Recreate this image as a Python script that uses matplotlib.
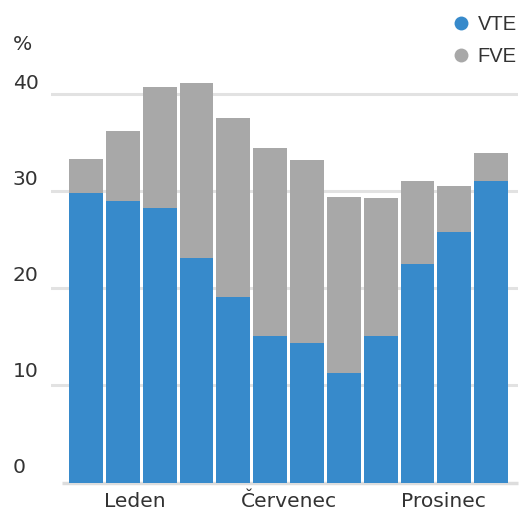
import matplotlib
matplotlib.use("Agg")
import matplotlib.pyplot as plt
from matplotlib.lines import Line2D
import numpy as np

months = ["Leden", "Únor", "Březen", "Duben", "Květen", "Červen",
          "Červenec", "Srpen", "Září", "Říjen", "Listopad", "Prosinec"]
vte = [29.8, 29.0, 28.2, 23.1, 19.1, 15.1, 14.4, 11.3, 15.1, 22.5, 25.8, 31.0]
fve = [3.5, 7.2, 12.5, 18.0, 18.4, 19.3, 18.8, 18.1, 14.2, 8.5, 4.7, 2.9]
series_names = ["VTE", "FVE"]
tick_labels = ["Leden", "Červenec", "Prosinec"]
y_ticks = [0, 10, 20, 30, 40]

C_VTE = "#378ACB"
C_FVE = "#A8A8A8"
TXT = "#333333"
FONT = "DejaVu Sans"
FS = 14.6

W, H = 521, 509
fig = plt.figure(figsize=(W / 100, H / 100), dpi=100)

left_px, right_px = 51, 518
zero_px = 482.5
px_per_unit = 9.72
ymax = 45
ax = fig.add_axes([left_px / W, (H - zero_px) / H,
                   (right_px - left_px) / W, ymax * px_per_unit / H])

x = np.arange(len(months))
ax.bar(x, vte, width=0.92, color=C_VTE, zorder=3, linewidth=0)
ax.bar(x, fve, width=0.92, bottom=vte, color=C_FVE, zorder=3, linewidth=0)

ax.set_xlim(-0.951, 11.73)
ax.set_ylim(0, ymax)

for v in y_ticks[1:]:
    ax.axhline(v, color="#E2E2E2", lw=2.2, zorder=1)
# baseline
ax.plot([(62 - left_px) / (right_px - left_px), 1], [0, 0], transform=ax.transAxes,
        color="#DDDDDD", lw=2.5, zorder=2, clip_on=False, solid_capstyle="butt")

for s in ax.spines.values():
    s.set_visible(False)
ax.set_yticks([])
ax.tick_params(axis="x", length=0, pad=7)
tick_pos = [1.33, 5.50, 9.71]
ax.set_xticks(tick_pos)
ax.set_xticklabels(tick_labels, fontsize=FS, color=TXT, family=FONT)

for v in y_ticks:
    ax.annotate(str(v), xy=(13, v), xycoords=("figure pixels", "data"),
                xytext=(0, 10 + (40 - v) * 0.12), textcoords="offset pixels",
                ha="left", va="center", fontsize=FS, color=TXT, family=FONT)
fig.text(13 / W, 1 - 45 / H, "%", ha="left", va="center", fontsize=FS, color=TXT, family=FONT)

handles = [Line2D([], [], marker="o", linestyle="", markersize=10, color=c, markeredgewidth=0)
           for c in (C_VTE, C_FVE)]
fig.legend(handles, series_names, loc="upper right",
           bbox_to_anchor=(1.0 + 4 / W, 1.0 - 7 / H),
           frameon=False, prop={"family": "Liberation Sans", "size": 14.5},
           handlelength=0.8, handletextpad=0.45, labelspacing=0.64,
           borderaxespad=0.2, borderpad=0.2, labelcolor=TXT)

fig.savefig("out.png", dpi=100)
